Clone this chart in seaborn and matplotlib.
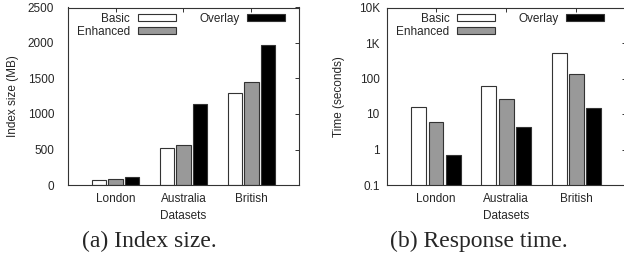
import matplotlib
matplotlib.use("Agg")
import matplotlib.pyplot as plt
from matplotlib.patches import Patch
import pandas as pd
import seaborn as sns

# ── Data ───────────────────────────────────────────────────────────────────────
DATASETS = ["London", "Australia", "British"]
METHODS = ["Basic", "Enhanced", "Overlay"]
COLORS = ["#ffffff", "#999999", "#000000"]

# index size (MB), one list per method, in DATASETS order
INDEX_BASIC = [70, 520, 1300]
INDEX_ENHANCED = [80, 565, 1450]
INDEX_OVERLAY = [115, 1135, 1970]

# response time (seconds)
TIME_BASIC = [16, 62, 525]
TIME_ENHANCED = [6, 26, 130]
TIME_OVERLAY = [0.7, 4.3, 14.4]

LOG_TICKS = [0.1, 1, 10, 100, 1000, 10000]
LOG_LABELS = ["0.1", "1", "10", "100", "1K", "10K"]


def to_long(*series):
    rows = []
    for m, vals in zip(METHODS, series):
        for d, v in zip(DATASETS, vals):
            rows.append({"Dataset": d, "Method": m, "Value": v})
    return pd.DataFrame(rows)


sns.set_style("white")
plt.rcParams["font.family"] = ["Liberation Sans", "DejaVu Sans"]
FS = 8.5

fig = plt.figure(figsize=(6.24, 2.57), dpi=100)
W, H = 624, 257
bottom, top = 185, 7.5
ax1 = fig.add_axes([68 / W, 1 - bottom / H, 231 / W, (bottom - top) / H])
ax2 = fig.add_axes([386.7 / W, 1 - bottom / H, 239 / W, (bottom - top) / H])


def draw(ax, df, legend_x):
    sns.barplot(data=df, x="Dataset", y="Value", hue="Method",
                hue_order=METHODS, order=DATASETS, palette=COLORS,
                edgecolor="#333333", linewidth=0.8, width=0.74, gap=0.15,
                legend=False, ax=ax)
    ax.set_xlim(-0.7, 2.7)
    for s in ax.spines.values():
        s.set_color("#333333")
        s.set_linewidth(0.8)
    ax.tick_params(axis="both", which="both", direction="in", length=3,
                   width=0.7, color="#333333", top=True, right=True,
                   labelsize=FS)
    ax.tick_params(axis="x", pad=5.5)
    ax.set_xlabel("Datasets", fontsize=FS)
    ax.xaxis.set_label_coords(0.5, -0.14)
    handles = [Patch(facecolor=c, edgecolor="#333333", linewidth=0.8, label=m)
               for m, c in zip(METHODS, COLORS)]
    ax.legend(handles=handles, loc="upper right", bbox_to_anchor=(legend_x, 0.97),
              ncol=2, frameon=False, markerfirst=False, fontsize=FS,
              handlelength=3.2, handleheight=0.5, handletextpad=0.65,
              columnspacing=2.0, labelspacing=0.1, borderpad=0, borderaxespad=0)


# (a) index size
draw(ax1, to_long(INDEX_BASIC, INDEX_ENHANCED, INDEX_OVERLAY), 0.939)
ax1.set_ylim(0, 2500)
ax1.set_yticks([0, 500, 1000, 1500, 2000, 2500])
ax1.tick_params(axis="y", pad=10)
ax1.set_ylabel("Index size (MB)", fontsize=FS)
ax1.yaxis.set_label_coords(-0.212, 0.5)

# (b) response time, log scale
draw(ax2, to_long(TIME_BASIC, TIME_ENHANCED, TIME_OVERLAY), 0.910)
ax2.set_yscale("log")
ax2.set_ylim(0.1, 10000)
ax2.set_yticks(LOG_TICKS)
ax2.set_yticklabels(LOG_LABELS)
ax2.minorticks_off()
ax2.tick_params(axis="y", pad=5)
ax2.set_ylabel("Time (seconds)", fontsize=FS)
ax2.yaxis.set_label_coords(-0.175, 0.5)

serif = ["Liberation Serif", "DejaVu Serif"]
fig.text(149 / W, 1 - 247 / H, "(a) Index size.", ha="center", va="baseline",
         fontsize=17, family=serif)
fig.text(479 / W, 1 - 247 / H, "(b) Response time.", ha="center", va="baseline",
         fontsize=17, family=serif)

fig.savefig("out.png", dpi=100)
